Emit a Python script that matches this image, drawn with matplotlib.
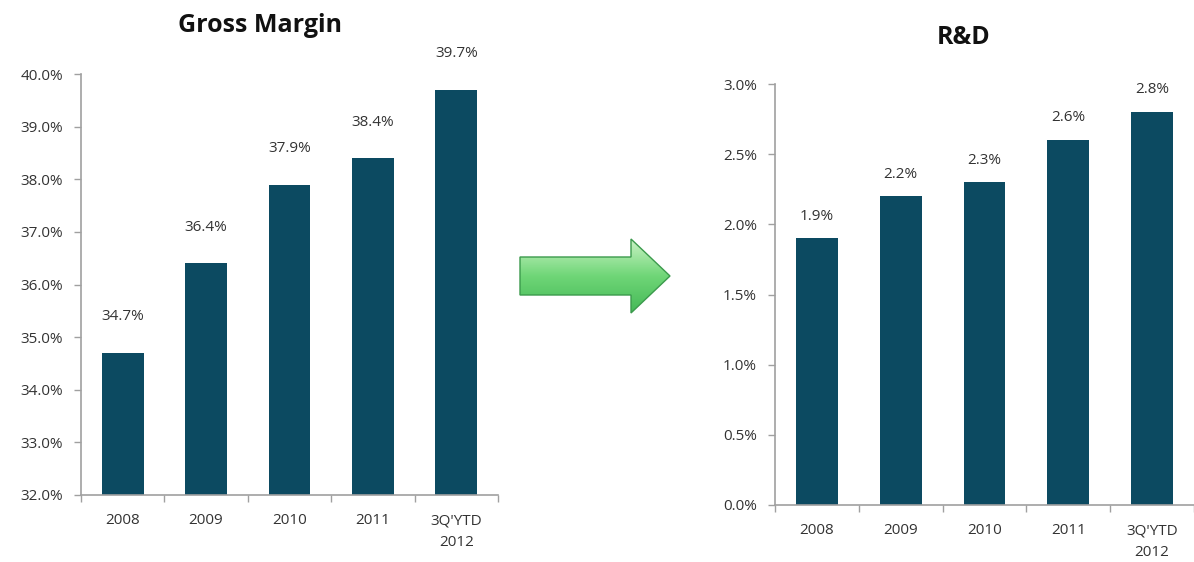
import numpy as np
import matplotlib
matplotlib.use('Agg')
import matplotlib.pyplot as plt
from matplotlib.patches import Polygon
from matplotlib.ticker import FuncFormatter, FixedLocator

categories = ['2008', '2009', '2010', '2011', "3Q'YTD\n2012"]
gross_margin = [34.7, 36.4, 37.9, 38.4, 39.7]
rnd = [1.9, 2.2, 2.3, 2.6, 2.8]

bar_color = '#0c4a61'
axis_color = '#a0a0a0'
text_color = '#333333'

plt.rcParams['font.family'] = ['Open Sans', 'DejaVu Sans']

fig = plt.figure(figsize=(11.94, 5.62), dpi=100)


def draw_panel(rect, values, ylim, step, title, title_xy, label_offset):
    ax = fig.add_axes(rect)
    x = np.arange(len(categories))
    ax.bar(x, values, width=0.5, color=bar_color, zorder=2)
    ax.set_xlim(-0.5, len(categories) - 0.5)
    ax.set_ylim(*ylim)
    ax.set_yticks(np.arange(ylim[0], ylim[1] + step / 2, step))
    ax.yaxis.set_major_formatter(FuncFormatter(lambda v, p: f'{v:.1f}%'))
    ax.set_xticks(x)
    ax.set_xticklabels(categories, linespacing=1.6)
    ax.xaxis.set_minor_locator(FixedLocator(np.arange(-0.5, len(categories) - 0.4, 1.0)))
    ax.tick_params(axis='x', which='major', length=0, pad=13, labelsize=11, labelcolor=text_color)
    ax.tick_params(axis='x', which='minor', length=5, color=axis_color, width=1)
    ax.tick_params(axis='y', length=5, color=axis_color, width=1, pad=8, labelsize=11,
                   labelcolor=text_color)
    for s in ['top', 'right']:
        ax.spines[s].set_visible(False)
    for s in ['left', 'bottom']:
        ax.spines[s].set_color(axis_color)
        ax.spines[s].set_linewidth(1.2)
    for xi, v in zip(x, values):
        ax.annotate(f'{v:.1f}%', (xi, v), xytext=(0, label_offset), textcoords='offset points',
                    ha='center', va='center', fontsize=11, color=text_color)
    fig.text(title_xy[0] / 1194, 1 - title_xy[1] / 562, title, ha='center', va='center',
             fontsize=18, fontweight='bold', color='#111111')
    return ax


draw_panel([81 / 1194, 1 - 495 / 562, 417 / 1194, 421 / 562], gross_margin, (32, 40), 1.0,
           'Gross Margin', (260, 25), 26)
draw_panel([775 / 1194, 1 - 505 / 562, 419 / 1194, 421 / 562], rnd, (0, 3), 0.5,
           'R&D', (964, 37), 16)

# arrow between the panels, drawn in pixel coordinates
ov = fig.add_axes([0, 0, 1, 1], zorder=5)
ov.set_xlim(0, 1194)
ov.set_ylim(562, 0)
ov.axis('off')
arrow_pts = [(520, 257), (631, 257), (631, 239), (670, 276), (631, 313), (631, 295), (520, 295)]
poly = Polygon(arrow_pts, closed=True, facecolor='none', edgecolor='#3b9a4c', linewidth=1.0,
               zorder=3)
ov.add_patch(poly)
grad = np.linspace(0, 1, 100).reshape(-1, 1)
cmap = matplotlib.colors.LinearSegmentedColormap.from_list('g', ['#c9f2c4', '#6fd677', '#45b957'])
img = ov.imshow(grad, extent=(520, 670, 313, 239), cmap=cmap, aspect='auto', zorder=2)
img.set_clip_path(Polygon(arrow_pts, closed=True, transform=ov.transData))

fig.savefig('out.png', dpi=100)
